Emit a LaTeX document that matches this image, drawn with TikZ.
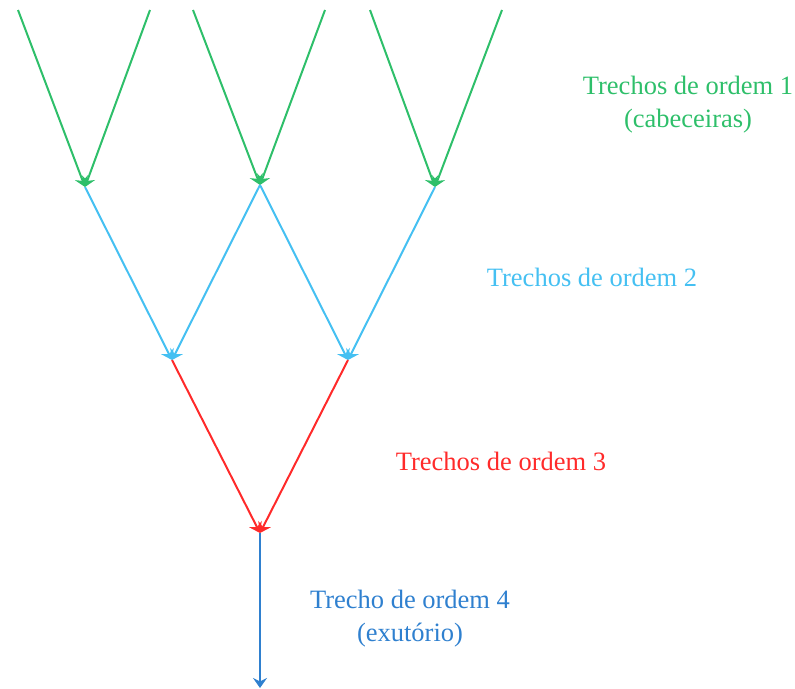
\documentclass[tikz,border=0pt]{standalone}
\usepackage{fontspec}
\setmainfont{Liberation Serif}
\usetikzlibrary{arrows.meta}
\definecolor{cgreen}{HTML}{2EBF6A}
\definecolor{clblue}{HTML}{45C0F2}
\definecolor{cred}{HTML}{FF2A2A}
\definecolor{cblue}{HTML}{2F80CF}
\tikzset{
  seg/.style={line width=2pt, -{Stealth[length=10pt,width=14pt,inset=3.5pt]}},
  lab/.style={align=center, font=\fontsize{26.5}{33}\selectfont, inner sep=0pt}
}
\begin{document}
\begin{tikzpicture}[x=1pt,y=-1pt]
\useasboundingbox (0,0) rectangle (795,688);
\coordinate (g1) at (18,10);
\coordinate (g2) at (150,10);
\coordinate (g3) at (193,10);
\coordinate (g4) at (325,10);
\coordinate (g5) at (370,10);
\coordinate (g6) at (502,10);
\coordinate (a) at (85,187);
\coordinate (b) at (260,185);
\coordinate (c) at (435,187);
\coordinate (d) at (172,360);
\coordinate (e) at (348,360);
\coordinate (f) at (260,533);
\coordinate (out) at (260,688);
\draw[seg,cgreen] (g1) -- (a);
\draw[seg,cgreen] (g2) -- (a);
\draw[seg,cgreen] (g3) -- (b);
\draw[seg,cgreen] (g4) -- (b);
\draw[seg,cgreen] (g5) -- (c);
\draw[seg,cgreen] (g6) -- (c);
\draw[seg,clblue] (a) -- (d);
\draw[seg,clblue] (b) -- (d);
\draw[seg,clblue] (b) -- (e);
\draw[seg,clblue] (c) -- (e);
\draw[seg,cred] (d) -- (f);
\draw[seg,cred] (e) -- (f);
\draw[seg,cblue] (f) -- (out);
\node[lab,text=cgreen] (l1) at (688,105) {Trechos de ordem 1\\(cabeceiras)};
\node[lab,text=clblue] (l2) at (592,277) {Trechos de ordem 2};
\node[lab,text=cred] (l3) at (501,461) {Trechos de ordem 3};
\node[lab,text=cblue] (l4) at (410,619) {Trecho de ordem 4\\(exutório)};
\end{tikzpicture}
\end{document}
